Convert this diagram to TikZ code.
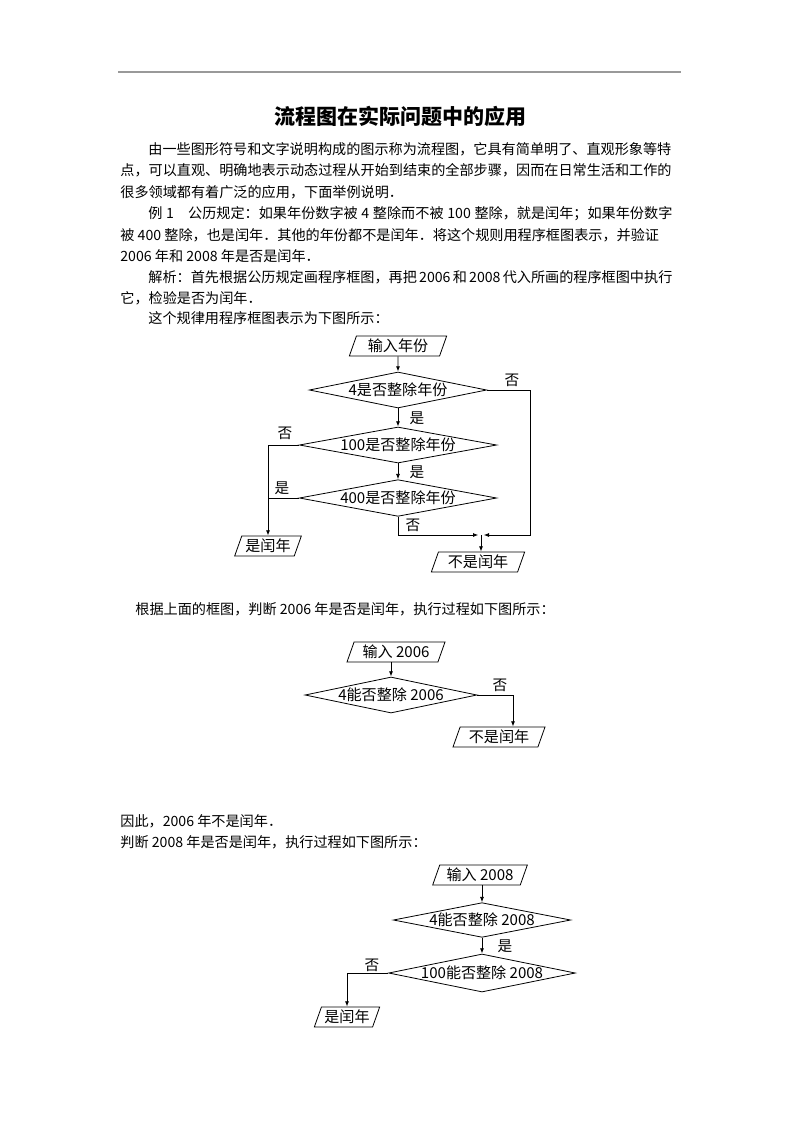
\documentclass[tikz,border=0pt]{standalone}
\usepackage{fontspec}
\setmainfont{Noto Sans CJK SC}
\usetikzlibrary{shapes.geometric,arrows.meta,positioning}
\XeTeXlinebreaklocale "zh"
\XeTeXlinebreakskip=0pt plus 1pt
\newcommand{\zw}[1]{\makebox[0pt]{#1}}
\tikzset{
  line/.style={anchor=west,inner sep=0pt,font=\fontsize{10.6}{12}\selectfont},
  io/.style={draw,trapezium,trapezium left angle=63,trapezium right angle=117,
    trapezium stretches body,minimum height=15pt,inner sep=0pt,font=\fontsize{11.3}{13}\selectfont},
  decide/.style={draw,diamond,aspect=1,inner sep=0pt,font=\fontsize{11.3}{13}\selectfont},
  lbl/.style={inner sep=0pt,font=\fontsize{11}{13}\selectfont},
  arr/.style={-{Latex[length=4pt,width=3pt]}}
}
\begin{document}
\begin{tikzpicture}[x=0.75pt,y=-0.75pt,line width=0.6pt]
\fill[white] (0,0) rectangle (800,1132);
\useasboundingbox (0,0) rectangle (800,1132);
\draw[gray!80,line width=1pt] (118,72) -- (681,72);
\node[inner sep=0pt,font=\fontsize{15.75}{18}\selectfont\bfseries] (title) at (400,116) {流程图在实际问题中的应用};

% text
\node[line] (p1) at (148,149) {\makebox[393pt][s]{由一些图形符号和文字说明构成的图示称为流程图，它具有简单明了、直观形象等特}};
\node[line] (p2) at (120,170) {\makebox[414pt][s]{点，可以直观、明确地表示动态过程从开始到结束的全部步骤，因而在日常生活和工作的}};
\node[line] (p3) at (120,192) {很多领域都有着广泛的应用，下面举例说明．};
\node[line] (p4) at (148,214) {\makebox[393pt][s]{例 1\hspace{1em}公历规定：如果年份数字被 4 整除而不被 100 整除，就是闰年；如果年份数字}};
\node[line] (p5) at (120,235) {被 400 整除，也是闰年．其他的年份都不是闰年．将这个规则用程序框图表示，并验证};
\node[line] (p6) at (120,256) {2006 年和 2008 年是否是闰年．};
\node[line] (p7) at (148,277) {\makebox[393pt][s]{解析：首先根据公历规定画程序框图，再把 2006 和 2008 代入所画的程序框图中执行}};
\node[line] (p8) at (120,298) {它，检验是否为闰年．};
\node[line] (p9) at (148,318) {这个规律用程序框图表示为下图所示：};

% rule chart
\node[io,minimum width=73pt] (in1) at (398,346) {输入年份};
\node[decide,minimum width=133pt,minimum height=27pt] (d1) at (398,390) {\zw{4是否整除年份}};
\node[decide,minimum width=148pt,minimum height=27pt] (d2) at (398,445) {\zw{100是否整除年份}};
\node[decide,minimum width=148pt,minimum height=27.5pt] (d3) at (398,498) {\zw{400是否整除年份}};
\node[io,minimum width=50pt] (leap1) at (268,546) {是闰年};
\node[io,minimum width=70pt] (nol1) at (478,562) {不是闰年};
\coordinate (j1) at (481,535);
\coordinate (r1) at (530,535);
\draw[arr] (in1) -- (d1);
\draw[arr] (d1) -- (d2);
\draw[arr] (d2) -- (d3);
\draw[arr,shorten >=2pt] (d1.east) -| (r1) -- (j1);
\draw[arr,shorten >=2pt] (d3.south) |- (j1);
\draw[arr] (j1) -- (j1 |- nol1.north);
\draw[arr] (d2.west) -| (leap1.north);
\draw (d3.west) -- (d3.west -| leap1.north);
\node[lbl] (n1) at (512,380) {否};
\node[lbl] (y1) at (417,418) {是};
\node[lbl] (n2) at (285,433) {否};
\node[lbl] (y2) at (417,472) {是};
\node[lbl] (y3) at (282,488) {是};
\node[lbl] (n3) at (413,525) {否};

\node[line] (p10) at (135,609) {根据上面的框图，判断 2006 年是否是闰年，执行过程如下图所示：};

% 2006
\node[io,minimum width=73.5pt] (in2) at (396,652) {输入 2006};
\node[decide,minimum width=129pt,minimum height=27pt] (e1) at (391,695) {\zw{4能否整除 2006}};
\node[io,minimum width=69pt] (nol2) at (499,737) {不是闰年};
\coordinate (k2) at (513,695);
\draw[arr] (e1.north |- in2.south) -- (e1.north);
\draw[arr] (e1.east) -- (k2) -- (k2 |- nol2.north);
\node[lbl] (n4) at (500,685) {否};

\node[line] (p11) at (120,821) {因此，2006 年不是闰年．};
\node[line] (p12) at (120,842) {判断 2008 年是否是闰年，执行过程如下图所示：};

% 2008
\node[io,minimum width=71pt] (in3) at (480,875) {输入 2008};
\node[decide,minimum width=133pt,minimum height=26pt] (f1) at (482,920) {\zw{4能否整除 2008}};
\node[decide,minimum width=140pt,minimum height=28.5pt] (f2) at (482,973) {\zw{100能否整除 2008}};
\node[io,minimum width=49pt] (leap3) at (347,1017) {是闰年};
\draw[arr] (f1.north |- in3.south) -- (f1.north);
\draw[arr] (f1) -- (f2);
\draw[arr] (f2.west) -| (leap3.north);
\node[lbl] (y4) at (505,946) {是};
\node[lbl] (n5) at (372,965) {否};
\end{tikzpicture}
\end{document}
